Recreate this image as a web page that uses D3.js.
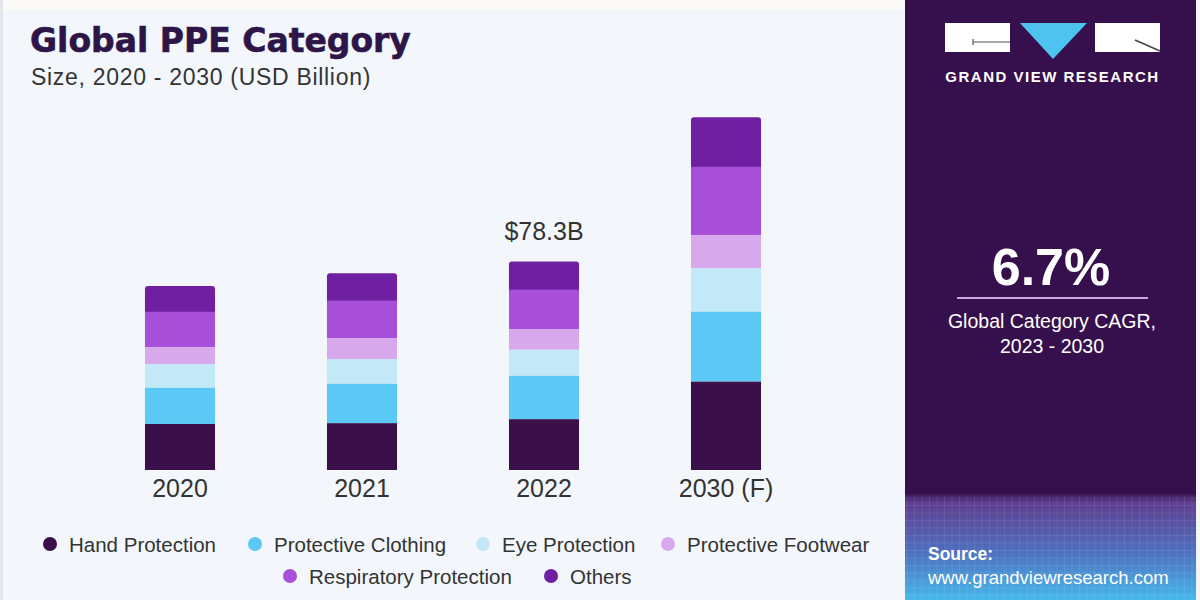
<!DOCTYPE html>
<html><head><meta charset="utf-8">
<script src="https://cdn.jsdelivr.net/npm/d3@7"></script>
<style>body{margin:0;background:#f3f7fb;}svg{display:block;}</style>
</head><body>
<svg id="c" width="1200" height="600"></svg>
<script>
const years = ["2020","2021","2022","2030 (F)"];
const seriesNames = ["Hand Protection","Protective Clothing","Eye Protection","Protective Footwear","Respiratory Protection","Others"];
const handProtection = [17.3,17.6,19.1,33.2];
const protectiveClothing = [13.6,14.8,16.3,26.3];
const eyeProtection = [8.9,9.3,9.8,16.3];
const protectiveFootwear = [6.4,7.9,7.8,12.5];
const respiratoryProtection = [13.3,14.1,14.8,25.7];
const others = [9.7,10.3,10.6,18.6];
const colors = ["#3b0f4a","#5bc8f5","#c3e9f9","#d7a8ec","#a74fd9","#6e20a1"];
const annotation = {year:"2022", label:"$78.3B"};
const cagr = "6.7%";

const svg = d3.select("#c");
const font = "'Liberation Sans', Arial, sans-serif";

// backgrounds
svg.append("rect").attr("x",0).attr("y",0).attr("width",1200).attr("height",600).attr("fill","#f3f7fb");
svg.append("rect").attr("x",0).attr("y",0).attr("width",1200).attr("height",10).attr("fill","#fbfaf6");
svg.append("rect").attr("x",0).attr("y",0).attr("width",3).attr("height",600).attr("fill","#e3e7ec");

const defs = svg.append("defs");
const g1 = defs.append("linearGradient").attr("id","src").attr("x1",0).attr("y1",0).attr("x2",0).attr("y2",1);
g1.append("stop").attr("offset","0%").attr("stop-color","#3c1656");
g1.append("stop").attr("offset","8%").attr("stop-color","#5f3e8f");
g1.append("stop").attr("offset","55%").attr("stop-color","#4f70c0");
g1.append("stop").attr("offset","100%").attr("stop-color","#45b8ea");

svg.append("rect").attr("x",905).attr("y",0).attr("width",291).attr("height",600).attr("fill","#36104d");
svg.append("rect").attr("x",905).attr("y",494).attr("width",291).attr("height",106).attr("fill","url(#src)");
// faint grid
const gridG = svg.append("g").attr("stroke","#ffffff").attr("stroke-opacity",0.08).attr("stroke-width",1);
for(let i=0;i<14;i++){ gridG.append("line").attr("x1",905).attr("x2",1196).attr("y1",498+i*7.5).attr("y2",498+i*7.5); }
for(let i=0;i<40;i++){ gridG.append("line").attr("x1",907+i*7.5).attr("x2",907+i*7.5).attr("y1",496).attr("y2",600); }
svg.append("rect").attr("x",1196).attr("y",0).attr("width",4).attr("height",600).attr("fill","#f3f7fb");

// logo
const logo = svg.append("g");
logo.append("rect").attr("x",945).attr("y",23).attr("width",65).attr("height",29).attr("fill","#ffffff");
logo.append("rect").attr("x",1095).attr("y",23).attr("width",65).attr("height",29).attr("fill","#ffffff");
logo.append("path").attr("d","M1020,23 L1087,23 L1053,59 Z").attr("fill","#4fc3ef");
logo.append("line").attr("x1",973).attr("x2",1010).attr("y1",42).attr("y2",42).attr("stroke","#555").attr("stroke-width",1.2);
logo.append("line").attr("x1",973).attr("x2",973).attr("y1",39).attr("y2",45).attr("stroke","#555").attr("stroke-width",1.2);
logo.append("line").attr("x1",1135).attr("x2",1160).attr("y1",40).attr("y2",51).attr("stroke","#444").attr("stroke-width",1.5);
logo.append("text").attr("x",1052.5).attr("y",82).attr("text-anchor","middle").attr("fill","#ffffff")
  .attr("font-family",font).attr("font-weight","bold").attr("font-size",15).attr("letter-spacing",1.5).text("GRAND VIEW RESEARCH");

// CAGR
svg.append("text").attr("x",1051).attr("y",285).attr("text-anchor","middle").attr("fill","#ffffff")
  .attr("font-family",font).attr("font-weight","bold").attr("font-size",52).text(cagr);
svg.append("line").attr("x1",957).attr("x2",1148).attr("y1",298).attr("y2",298).attr("stroke","#c9a6e6").attr("stroke-width",2);
svg.append("text").attr("x",1052).attr("y",328).attr("text-anchor","middle").attr("fill","#ffffff")
  .attr("font-family",font).attr("font-size",19.5).text("Global Category CAGR,");
svg.append("text").attr("x",1052).attr("y",353).attr("text-anchor","middle").attr("fill","#ffffff")
  .attr("font-family",font).attr("font-size",19.5).text("2023 - 2030");

// source
svg.append("text").attr("x",928).attr("y",560).attr("fill","#ffffff").attr("font-family",font).attr("font-weight","bold").attr("font-size",17.5).text("Source:");
svg.append("text").attr("x",928).attr("y",584).attr("fill","#ffffff").attr("font-family",font).attr("font-size",18.5).text("www.grandviewresearch.com");

// title
svg.append("text").attr("x",30).attr("y",52).attr("fill","#2d1548").attr("stroke","#2d1548").attr("stroke-width",0.6)
  .attr("font-family","'DejaVu Sans', sans-serif")
  .attr("font-weight","bold").attr("font-size",33).text("Global PPE Category");
svg.append("text").attr("x",31).attr("y",85).attr("fill","#333").attr("font-family",font).attr("font-size",23)
  .attr("letter-spacing",0.7).text("Size, 2020 - 2030 (USD Billion)");

// chart
const x = d3.scaleBand().domain(years).range([89,817]).paddingInner(0.615).paddingOuter(0.3075);
const y = d3.scaleLinear().domain([0,150]).range([470,71]);

const rows = years.map((yr,i)=>({year:yr,
  "Hand Protection":handProtection[i],"Protective Clothing":protectiveClothing[i],"Eye Protection":eyeProtection[i],
  "Protective Footwear":protectiveFootwear[i],"Respiratory Protection":respiratoryProtection[i],"Others":others[i]}));
const stacked = d3.stack().keys(seriesNames)(rows);

const bars = svg.append("g");
stacked.slice().reverse().forEach(s=>{
  const idx = seriesNames.indexOf(s.key);
  const isTop = idx === seriesNames.length-1;
  bars.selectAll(null).data(s).join("rect")
    .attr("x",d=>x(d.data.year))
    .attr("width",x.bandwidth())
    .attr("y",d=>y(d[1]))
    .attr("height",d=>y(d[0])-y(d[1]) + (isTop?4:0))
    .attr("rx",isTop?3:0)
    .attr("fill",colors[idx]);
});

// axis labels
const xAxis = svg.append("g").attr("transform","translate(0,470)")
  .call(d3.axisBottom(x).tickSize(0).tickPadding(9));
xAxis.select(".domain").remove();
xAxis.selectAll("text").attr("font-family",font).attr("font-size",25).attr("fill","#333");

// annotation
const ai = years.indexOf(annotation.year);
const total = stacked[stacked.length-1][ai][1];
svg.append("text").attr("x",x(annotation.year)+x.bandwidth()/2).attr("y",y(total)-21).attr("text-anchor","middle")
  .attr("font-family",font).attr("font-size",25).attr("fill","#333").text(annotation.label);

// legend
const legendRows = [[0,1,2,3],[4,5]];
const legendPos = [[50,255,483,668],[290,551]];
const legendY = [544,576];
legendRows.forEach((r,ri)=>{
  r.forEach((si,j)=>{
    const cx = legendPos[ri][j];
    svg.append("circle").attr("cx",cx).attr("cy",legendY[ri]).attr("r",7).attr("fill",colors[si]);
    svg.append("text").attr("x",cx+19).attr("y",legendY[ri]+7.5).attr("font-family",font).attr("font-size",20.5)
      .attr("fill","#333").text(seriesNames[si]);
  });
});
</script>
</body></html>
